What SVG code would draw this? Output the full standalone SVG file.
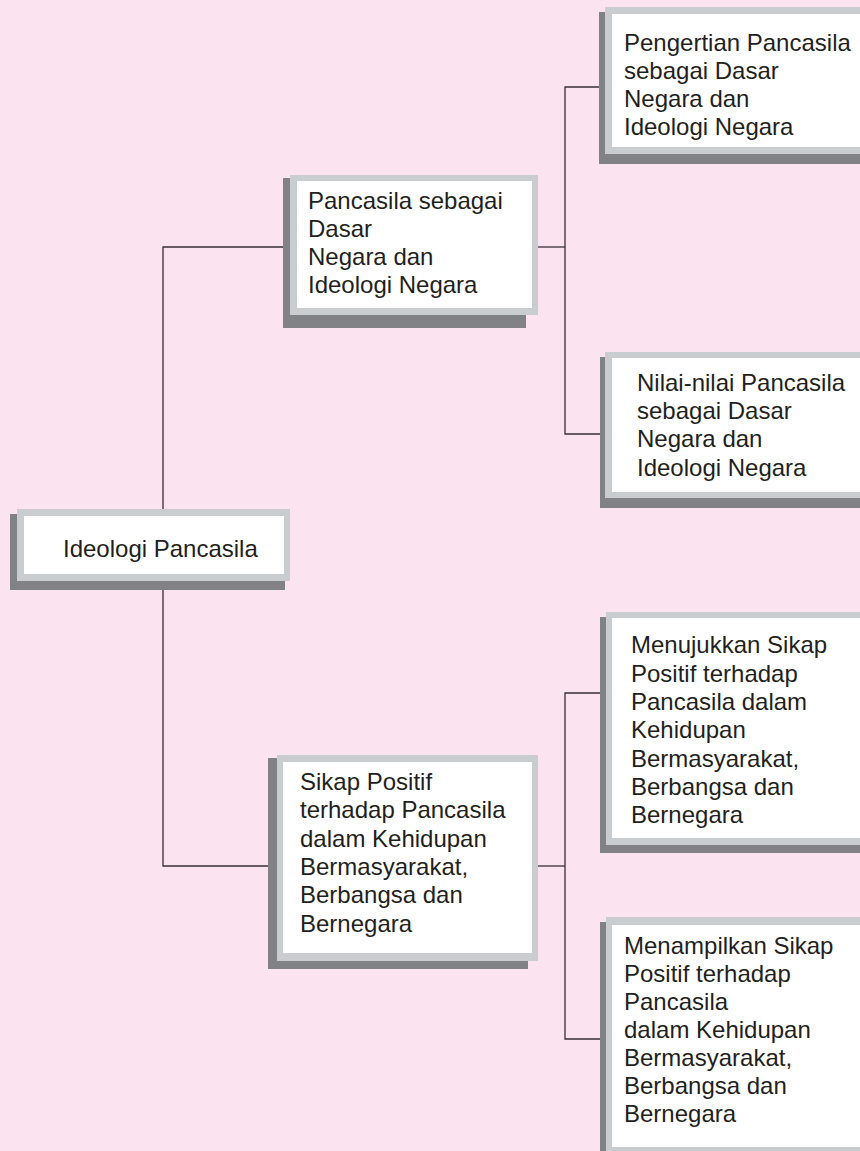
<svg xmlns="http://www.w3.org/2000/svg" width="860" height="1151" viewBox="0 0 860 1151">
  <style>
    .shadow { fill: #808285; }
    .frame { fill: #c9cdd0; }
    .inner { fill: #ffffff; }
    .label { font-family: "Liberation Sans", Arial, sans-serif; font-size: 24px; fill: #231f20; }
    .conn { fill: none; stroke: #3a2f36; stroke-width: 1.3; }
  </style>
  <rect x="0" y="0" width="860" height="1151" fill="#fbe3f0"/>

  <g id="connectors">
    <path class="conn" d="M290,247 H163 V866 H277"/>
    <path class="conn" d="M538,247 H565"/>
    <path class="conn" d="M605,87 H565 V434 H605"/>
    <path class="conn" d="M538,866 H565"/>
    <path class="conn" d="M606,693 H565 V1039 H606"/>
  </g>

  <g id="node-ideologi-pancasila">
    <rect class="shadow" x="10" y="514" width="275" height="76"/>
    <rect class="frame" x="17" y="509" width="273" height="72"/>
    <rect class="inner" x="24" y="516" width="260" height="58"/>
    <text class="label" x="63" y="557">Ideologi Pancasila</text>
  </g>

  <g id="node-dasar-negara">
    <rect class="shadow" x="283" y="178" width="243" height="150"/>
    <rect class="frame" x="290" y="175" width="248" height="140"/>
    <rect class="inner" x="297" y="181" width="235" height="127"/>
    <text class="label">
      <tspan x="308" y="209">Pancasila sebagai</tspan>
      <tspan x="308" y="237">Dasar</tspan>
      <tspan x="308" y="265">Negara dan</tspan>
      <tspan x="308" y="293">Ideologi Negara</tspan>
    </text>
  </g>

  <g id="node-pengertian">
    <rect class="shadow" x="599" y="12" width="280" height="152"/>
    <rect class="frame" x="605" y="7" width="275" height="147"/>
    <rect class="inner" x="612" y="14" width="270" height="133"/>
    <text class="label">
      <tspan x="624" y="51">Pengertian Pancasila</tspan>
      <tspan x="624" y="79">sebagai Dasar</tspan>
      <tspan x="624" y="107">Negara dan</tspan>
      <tspan x="624" y="135">Ideologi Negara</tspan>
    </text>
  </g>

  <g id="node-nilai-nilai">
    <rect class="shadow" x="600" y="357" width="280" height="151"/>
    <rect class="frame" x="605" y="352" width="275" height="146"/>
    <rect class="inner" x="612" y="358" width="270" height="134"/>
    <text class="label">
      <tspan x="637" y="391">Nilai-nilai Pancasila</tspan>
      <tspan x="637" y="419">sebagai Dasar</tspan>
      <tspan x="637" y="447">Negara dan</tspan>
      <tspan x="637" y="476">Ideologi Negara</tspan>
    </text>
  </g>

  <g id="node-sikap-positif">
    <rect class="shadow" x="268" y="758" width="260" height="211"/>
    <rect class="frame" x="277" y="755" width="261" height="206"/>
    <rect class="inner" x="283" y="762" width="249" height="191"/>
    <text class="label">
      <tspan x="300" y="790">Sikap Positif</tspan>
      <tspan x="300" y="818">terhadap Pancasila</tspan>
      <tspan x="300" y="847">dalam Kehidupan</tspan>
      <tspan x="300" y="875">Bermasyarakat,</tspan>
      <tspan x="300" y="903">Berbangsa dan</tspan>
      <tspan x="300" y="932">Bernegara</tspan>
    </text>
  </g>

  <g id="node-menujukkan">
    <rect class="shadow" x="600" y="617" width="280" height="236"/>
    <rect class="frame" x="606" y="612" width="275" height="233"/>
    <rect class="inner" x="612" y="618" width="270" height="220"/>
    <text class="label">
      <tspan x="631" y="653">Menujukkan Sikap</tspan>
      <tspan x="631" y="682">Positif terhadap</tspan>
      <tspan x="631" y="710">Pancasila dalam</tspan>
      <tspan x="631" y="738">Kehidupan</tspan>
      <tspan x="631" y="767">Bermasyarakat,</tspan>
      <tspan x="631" y="795">Berbangsa dan</tspan>
      <tspan x="631" y="823">Bernegara</tspan>
    </text>
  </g>

  <g id="node-menampilkan">
    <rect class="shadow" x="600" y="922" width="280" height="250"/>
    <rect class="frame" x="606" y="917" width="275" height="250"/>
    <rect class="inner" x="612" y="925" width="270" height="222"/>
    <text class="label">
      <tspan x="624" y="954">Menampilkan Sikap</tspan>
      <tspan x="624" y="982">Positif terhadap</tspan>
      <tspan x="624" y="1010">Pancasila</tspan>
      <tspan x="624" y="1038">dalam Kehidupan</tspan>
      <tspan x="624" y="1066">Bermasyarakat,</tspan>
      <tspan x="624" y="1094">Berbangsa dan</tspan>
      <tspan x="624" y="1122">Bernegara</tspan>
    </text>
  </g>
</svg>
